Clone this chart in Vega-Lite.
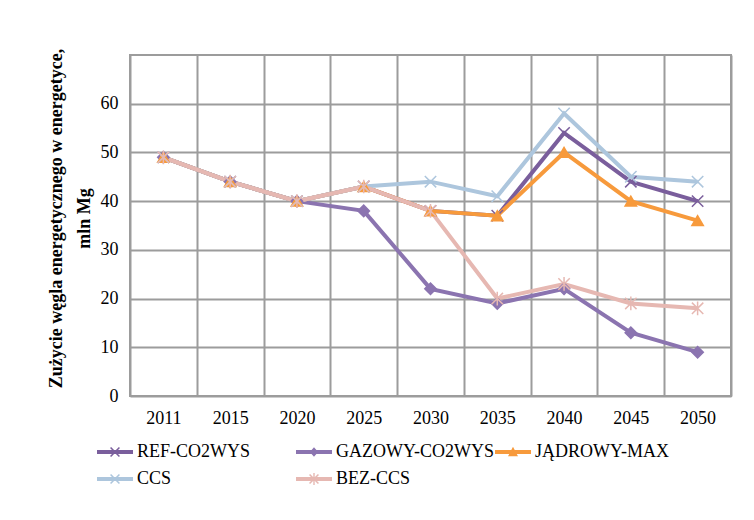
{
  "$schema": "https://vega.github.io/schema/vega-lite/v6.json",
  "width": 601,
  "height": 341,
  "autosize": "none",
  "padding": {"left": 130, "top": 55, "right": 23, "bottom": 124},
  "background": "white",
  "config": {
    "font": "Liberation Serif",
    "view": {"stroke": "#9c9c9c", "strokeWidth": 2},
    "axis": {"labelFont": "Liberation Serif", "labelFontSize": 18, "labelColor": "#000000", "titleFont": "Liberation Serif", "domain": false, "ticks": false, "tickSize": 0, "gridColor": "#9c9c9c", "gridWidth": 2, "gridOpacity": 1}
  },
  "data": {"values": [
    {"year": "2011", "series": "REF-CO2WYS", "value": 49},
    {"year": "2015", "series": "REF-CO2WYS", "value": 44},
    {"year": "2020", "series": "REF-CO2WYS", "value": 40},
    {"year": "2025", "series": "REF-CO2WYS", "value": 43},
    {"year": "2030", "series": "REF-CO2WYS", "value": 38},
    {"year": "2035", "series": "REF-CO2WYS", "value": 37},
    {"year": "2040", "series": "REF-CO2WYS", "value": 54},
    {"year": "2045", "series": "REF-CO2WYS", "value": 44},
    {"year": "2050", "series": "REF-CO2WYS", "value": 40},
    {"year": "2011", "series": "GAZOWY-CO2WYS", "value": 49},
    {"year": "2015", "series": "GAZOWY-CO2WYS", "value": 44},
    {"year": "2020", "series": "GAZOWY-CO2WYS", "value": 40},
    {"year": "2025", "series": "GAZOWY-CO2WYS", "value": 38},
    {"year": "2030", "series": "GAZOWY-CO2WYS", "value": 22},
    {"year": "2035", "series": "GAZOWY-CO2WYS", "value": 19},
    {"year": "2040", "series": "GAZOWY-CO2WYS", "value": 22},
    {"year": "2045", "series": "GAZOWY-CO2WYS", "value": 13},
    {"year": "2050", "series": "GAZOWY-CO2WYS", "value": 9},
    {"year": "2011", "series": "JĄDROWY-MAX", "value": 49},
    {"year": "2015", "series": "JĄDROWY-MAX", "value": 44},
    {"year": "2020", "series": "JĄDROWY-MAX", "value": 40},
    {"year": "2025", "series": "JĄDROWY-MAX", "value": 43},
    {"year": "2030", "series": "JĄDROWY-MAX", "value": 38},
    {"year": "2035", "series": "JĄDROWY-MAX", "value": 37},
    {"year": "2040", "series": "JĄDROWY-MAX", "value": 50},
    {"year": "2045", "series": "JĄDROWY-MAX", "value": 40},
    {"year": "2050", "series": "JĄDROWY-MAX", "value": 36},
    {"year": "2011", "series": "CCS", "value": 49},
    {"year": "2015", "series": "CCS", "value": 44},
    {"year": "2020", "series": "CCS", "value": 40},
    {"year": "2025", "series": "CCS", "value": 43},
    {"year": "2030", "series": "CCS", "value": 44},
    {"year": "2035", "series": "CCS", "value": 41},
    {"year": "2040", "series": "CCS", "value": 58},
    {"year": "2045", "series": "CCS", "value": 45},
    {"year": "2050", "series": "CCS", "value": 44},
    {"year": "2011", "series": "BEZ-CCS", "value": 49},
    {"year": "2015", "series": "BEZ-CCS", "value": 44},
    {"year": "2020", "series": "BEZ-CCS", "value": 40},
    {"year": "2025", "series": "BEZ-CCS", "value": 43},
    {"year": "2030", "series": "BEZ-CCS", "value": 38},
    {"year": "2035", "series": "BEZ-CCS", "value": 20},
    {"year": "2040", "series": "BEZ-CCS", "value": 23},
    {"year": "2045", "series": "BEZ-CCS", "value": 19},
    {"year": "2050", "series": "BEZ-CCS", "value": 18}
  ]},
  "encoding": {
    "x": {
      "field": "year", "type": "ordinal",
      "scale": {"type": "band", "paddingInner": 0, "paddingOuter": 0},
      "bandPosition": 0.5,
      "axis": {"title": null, "labelAngle": 0, "tickBand": "extent", "labelPadding": 13, "grid": true}
    },
    "y": {
      "field": "value", "type": "quantitative",
      "scale": {"domain": [0, 70], "nice": false, "zero": true},
      "axis": {
        "values": [0, 10, 20, 30, 40, 50, 60],
        "labelPadding": 12,
        "title": ["Zużycie węgla energetycznego w energetyce,", "mln Mg"],
        "titleFontSize": 18, "titleFontWeight": "bold", "titleColor": "#000000",
        "titleLineHeight": 28, "titleBaseline": "alphabetic", "titleAlign": "center", "titleAngle": -90,
        "titleX": -69, "titleY": 163
      }
    }
  },
  "layer": [
    {
      "mark": {"type": "line", "strokeWidth": 4},
      "encoding": {
        "stroke": {"field": "series", "type": "nominal", "legend": null,
          "scale": {"domain": ["REF-CO2WYS", "GAZOWY-CO2WYS", "JĄDROWY-MAX", "CCS", "BEZ-CCS"],
                    "range": ["#7a5e9c", "#8b74b0", "#f79a3c", "#adc6dd", "#e6b8b2"]}}
      }
    },
    {
      "mark": {"type": "point", "filled": true, "size": 130, "strokeWidth": 1.5, "opacity": 1},
      "encoding": {
        "shape": {"field": "series", "type": "nominal", "legend": null,
          "scale": {"domain": ["REF-CO2WYS", "GAZOWY-CO2WYS", "JĄDROWY-MAX", "CCS", "BEZ-CCS"],
                    "range": ["M-1,-1L1,1M-1,1L1,-1", "diamond", "triangle-up", "M-1,-1L1,1M-1,1L1,-1", "M-1,-1L1,1M-1,1L1,-1M0,-1.2L0,1.2"]}},
        "fill": {"field": "series", "type": "nominal", "legend": null,
          "scale": {"domain": ["REF-CO2WYS", "GAZOWY-CO2WYS", "JĄDROWY-MAX", "CCS", "BEZ-CCS"],
                    "range": ["#7a5e9c", "#8b74b0", "#f79a3c", "#adc6dd", "#e6b8b2"]}},
        "stroke": {"field": "series", "type": "nominal", "legend": null}
      }
    },
    {
      "mark": {"type": "point", "filled": true, "opacity": 0},
      "encoding": {
        "color": {"field": "series", "type": "nominal",
          "scale": {"domain": ["REF-CO2WYS", "GAZOWY-CO2WYS", "JĄDROWY-MAX", "CCS", "BEZ-CCS"],
                    "range": ["#7a5e9c", "#8b74b0", "#f79a3c", "#adc6dd", "#e6b8b2"]},
          "legend": {
            "title": null, "orient": "none", "legendX": -29, "legendY": 383,
            "direction": "horizontal", "columns": 3, "gridAlign": "all",
            "columnPadding": 0, "rowPadding": 4, "padding": 0,
            "symbolSize": 767, "symbolStrokeWidth": 0, "symbolOpacity": 1,
            "labelFont": "Liberation Serif", "labelFontSize": 18, "labelColor": "#000000",
            "labelOffset": 8, "labelLimit": 300,
            "encode": {"symbols": {"update": {"opacity": {"value": 1}, "fillOpacity": {"value": 1}}}}
          }
        },
        "shape": {"field": "series", "type": "nominal",
          "legend": {
            "title": null, "orient": "none", "legendX": -29, "legendY": 383,
            "direction": "horizontal", "columns": 3, "gridAlign": "all",
            "columnPadding": 0, "rowPadding": 4, "padding": 0,
            "symbolSize": 767, "symbolStrokeWidth": 0, "symbolOpacity": 1,
            "labelFont": "Liberation Serif", "labelFontSize": 18, "labelColor": "#000000",
            "labelOffset": 8, "labelLimit": 300
          },
          "scale": {"domain": ["REF-CO2WYS", "GAZOWY-CO2WYS", "JĄDROWY-MAX", "CCS", "BEZ-CCS"],
                    "range": [
                      "M-1.3,-0.15H1.3V0.15H-1.3ZM-0.36,-0.28L-0.28,-0.36L0.36,0.28L0.28,0.36ZM0.28,-0.36L0.36,-0.28L-0.28,0.36L-0.36,0.28Z",
                      "M-1.3,-0.15H1.3V0.15H-1.3ZM0,-0.35L0.3,0L0,0.35L-0.3,0Z",
                      "M-1.3,-0.15H1.3V0.15H-1.3ZM0,-0.38L0.36,0.3L-0.36,0.3Z",
                      "M-1.3,-0.15H1.3V0.15H-1.3ZM-0.36,-0.28L-0.28,-0.36L0.36,0.28L0.28,0.36ZM0.28,-0.36L0.36,-0.28L-0.28,0.36L-0.36,0.28Z",
                      "M-1.3,-0.15H1.3V0.15H-1.3ZM-0.36,-0.28L-0.28,-0.36L0.36,0.28L0.28,0.36ZM0.28,-0.36L0.36,-0.28L-0.28,0.36L-0.36,0.28ZM-0.05,-0.44H0.05V0.44H-0.05Z"
                    ]}
        }
      }
    }
  ],
  "resolve": {"scale": {"shape": "independent", "color": "independent"}}
}
